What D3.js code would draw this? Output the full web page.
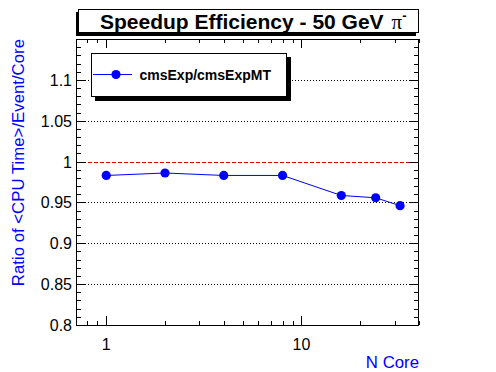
<!DOCTYPE html>
<html>
<head>
    <style>
        body { margin: 0; background: #fff; }
        svg { display: block; font-family: "Liberation Sans", Arial, sans-serif; }
    </style>
</head>
<body>
    <svg id="chart" width="496" height="372"></svg>
    <script src="https://d3js.org/d3.v7.min.js"></script>
    <script>
        // data
        const cores = [1, 2, 4, 8, 16, 24, 32];
        const ratio = [0.983, 0.986, 0.983, 0.983, 0.9585, 0.9557, 0.946];
        const yTickValues = [0.8, 0.85, 0.9, 0.95, 1, 1.05, 1.1];
        const yTickLabels = ["0.8", "0.85", "0.9", "0.95", "1", "1.05", "1.1"];
        const xTickValues = [1, 10];
        const xTickLabels = ["1", "10"];
        const gridValues = [0.85, 0.9, 0.95, 1.05, 1.1];
        const seriesName = "cmsExp/cmsExpMT";

        const svg = d3.select("#chart");
        const frameL = 76, frameR = 419, frameT = 39, frameB = 325;

        const x = d3.scaleLog().domain([0.7, 40]).range([frameL, frameR]);
        const y = d3.scaleLinear().domain([0.8, 1.15]).range([frameB, frameT]);

        // gridlines
        svg.append("g")
            .selectAll("line")
            .data(gridValues)
            .join("line")
            .attr("x1", frameL).attr("x2", frameR)
            .attr("y1", d => Math.round(y(d)) + 0.5).attr("y2", d => Math.round(y(d)) + 0.5)
            .attr("stroke", "#000")
            .attr("stroke-dasharray", "1,2");

        svg.append("line")
            .attr("x1", frameL).attr("x2", frameR)
            .attr("y1", Math.round(y(1)) + 0.5).attr("y2", Math.round(y(1)) + 0.5)
            .attr("stroke", "#e00000")
            .attr("stroke-dasharray", "4,2");

        // y axes (left + right mirror)
        const yMinor = d3.range(80, 115).map(v => v / 100).filter(v => Math.round(v * 100) % 5 !== 0);
        const yMajor = d3.range(0, 8).map(i => 0.8 + i * 0.05);
        function yTicks(xPos, dir) {
            const g = svg.append("g");
            g.selectAll("line.mi").data(yMinor).join("line")
                .attr("x1", xPos).attr("x2", xPos + dir * 5)
                .attr("y1", d => Math.round(y(d)) + 0.5).attr("y2", d => Math.round(y(d)) + 0.5)
                .attr("stroke", "#000");
            g.selectAll("line.ma").data(yMajor).join("line")
                .attr("x1", xPos).attr("x2", xPos + dir * 10)
                .attr("y1", d => Math.round(y(d)) + 0.5).attr("y2", d => Math.round(y(d)) + 0.5)
                .attr("stroke", "#000");
        }
        yTicks(frameL, 1);
        yTicks(frameR, -1);

        // x axes (bottom + top mirror), log ticks
        const xMinor = [0.8, 0.9, 2, 3, 4, 5, 6, 7, 8, 9, 20, 30, 40];
        function xTicks(yPos, dir) {
            const g = svg.append("g");
            g.selectAll("line.mi").data(xMinor).join("line")
                .attr("x1", d => Math.round(x(d)) + 0.5).attr("x2", d => Math.round(x(d)) + 0.5)
                .attr("y1", yPos).attr("y2", yPos + dir * 4)
                .attr("stroke", "#000");
            g.selectAll("line.ma").data(xTickValues).join("line")
                .attr("x1", d => Math.round(x(d)) + 0.5).attr("x2", d => Math.round(x(d)) + 0.5)
                .attr("y1", yPos).attr("y2", yPos + dir * 9)
                .attr("stroke", "#000");
        }
        xTicks(frameB, -1);
        xTicks(frameT, 1);

        // frame
        svg.append("rect")
            .attr("x", frameL + 0.5).attr("y", frameT + 0.5)
            .attr("width", frameR - frameL - 1).attr("height", frameB - frameT)
            .attr("fill", "none").attr("stroke", "#000");

        // tick labels
        svg.append("g")
            .selectAll("text")
            .data(yTickValues)
            .join("text")
            .attr("x", 72)
            .attr("y", d => y(d) + 6)
            .attr("text-anchor", "end")
            .attr("font-size", "16px")
            .text((d, i) => yTickLabels[i]);

        svg.append("g")
            .selectAll("text")
            .data(xTickValues)
            .join("text")
            .attr("x", d => x(d))
            .attr("y", 349.5)
            .attr("text-anchor", "middle")
            .attr("font-size", "16px")
            .text((d, i) => xTickLabels[i]);

        // axis titles
        svg.append("text")
            .attr("transform", "translate(23.5," + frameT + ") rotate(-90)")
            .attr("text-anchor", "end")
            .attr("font-size", "16.8px")
            .attr("fill", "#0000ff")
            .text("Ratio of <CPU Time>/Event/Core");

        svg.append("text")
            .attr("x", frameR)
            .attr("y", 368)
            .attr("text-anchor", "end")
            .attr("font-size", "16.8px")
            .attr("fill", "#0000ff")
            .text("N Core");

        // series
        const line = d3.line().x((d, i) => x(cores[i])).y(d => y(d));
        svg.append("path")
            .datum(ratio)
            .attr("d", line)
            .attr("fill", "none")
            .attr("stroke", "#0000ff")
            .attr("stroke-width", 1);

        svg.append("g")
            .selectAll("circle")
            .data(ratio)
            .join("circle")
            .attr("cx", (d, i) => x(cores[i]))
            .attr("cy", d => y(d))
            .attr("r", 4.6)
            .attr("fill", "#0000ff");

        // legend box with shadow
        svg.append("rect")
            .attr("x", 95).attr("y", 57).attr("width", 196).attr("height", 44)
            .attr("fill", "#000");
        svg.append("rect")
            .attr("x", 91.5).attr("y", 53.5).attr("width", 195).attr("height", 43)
            .attr("fill", "#fff").attr("stroke", "#000");
        svg.append("line")
            .attr("x1", 93).attr("x2", 132).attr("y1", 74.5).attr("y2", 74.5)
            .attr("stroke", "#0000ff");
        svg.append("circle")
            .attr("cx", 116).attr("cy", 74.5).attr("r", 4.6)
            .attr("fill", "#0000ff");
        svg.append("text")
            .attr("x", 139.5).attr("y", 79.5)
            .attr("font-size", "14px")
            .attr("font-weight", "bold")
            .text(seriesName);

        // title box with shadow (left/bottom)
        svg.append("rect")
            .attr("x", 76).attr("y", 12).attr("width", 340).attr("height", 24)
            .attr("fill", "#000");
        svg.append("rect")
            .attr("x", 78.5).attr("y", 9.5).attr("width", 340).attr("height", 23)
            .attr("fill", "#fff").attr("stroke", "#000");
        const title = svg.append("text")
            .attr("x", 100).attr("y", 28.5)
            .attr("font-size", "21px")
            .attr("font-weight", "bold");
        title.append("tspan").text("Speedup Efficiency - 50 GeV");
        title.append("tspan")
            .attr("dx", 8)
            .attr("font-family", "'Liberation Serif', serif")
            .attr("font-weight", "normal")
            .text("\u03c0");
        title.append("tspan")
            .attr("dy", -9)
            .attr("font-size", "13px")
            .text("-");
    </script>
</body>
</html>
